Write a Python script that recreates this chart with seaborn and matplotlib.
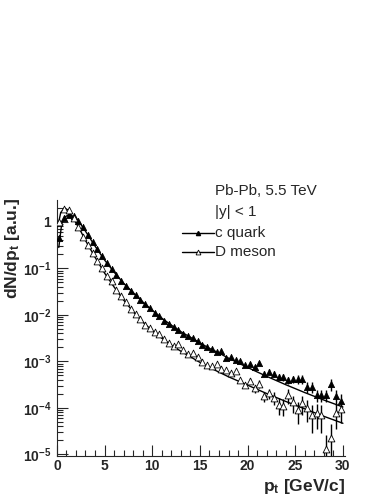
import numpy as np
import pandas as pd
import matplotlib
matplotlib.use("Agg")
import matplotlib.pyplot as plt
import matplotlib.ticker as mticker
import seaborn as sns

# bin centres of the simulated points
pt_bins = [0.25 + 0.5 * i for i in range(60)]

# log10 of dN/dpt for the points
c_quark_log = [-0.35, 0.08, 0.15, 0.12, 0.02, -0.12, -0.28, -0.44, -0.58, -0.74,
               -0.88, -1.02, -1.14, -1.27, -1.38, -1.48, -1.57, -1.67, -1.77, -1.86,
               -1.95, -2.03, -2.14, -2.19, -2.26, -2.33, -2.40, -2.46, -2.50, -2.57,
               -2.64, -2.68, -2.73, -2.80, -2.78, -2.93, -2.90, -2.96, -3.00, -3.08,
               -3.05, -3.12, -3.03, -3.26, -3.22, -3.26, -3.33, -3.34, -3.40, -3.38,
               -3.38, -3.38, -3.55, -3.55, -3.72, -3.72, -3.72, -3.49, -3.75, -3.85]
d_meson_log = [0.00, 0.28, 0.25, 0.08, -0.12, -0.32, -0.50, -0.67, -0.84, -1.00,
               -1.16, -1.28, -1.46, -1.60, -1.72, -1.88, -1.98, -2.08, -2.22, -2.28,
               -2.36, -2.42, -2.52, -2.60, -2.66, -2.62, -2.76, -2.84, -2.82, -2.90,
               -3.02, -3.08, -3.10, -3.05, -3.16, -3.18, -3.25, -3.20, -3.40, -3.50,
               -3.42, -3.58, -3.48, -3.75, -3.68, -3.78, -3.93, -3.95, -3.72, -3.88,
               -4.05, -3.90, -4.00, -4.15, -4.10, -4.15, -4.88, -4.65, -4.10, -4.02]

# relative statistical errors (visible only at high pt)
c_quark_err = [0.0] * 40 + [0.10, 0.10, 0.12, 0.12, 0.12, 0.15, 0.15, 0.15, 0.18, 0.18,
                            0.20, 0.22, 0.25, 0.25, 0.30, 0.30, 0.30, 0.28, 0.35, 0.40]
d_meson_err = [0.0] * 40 + [0.15, 0.20, 0.20, 0.25, 0.25, 0.30, 0.40, 0.40, 0.35, 0.40,
                            0.50, 0.45, 0.50, 0.60, 0.55, 0.60, 1.00, 1.00, 0.55, 0.50]

# fit curves (log10)
c_fit_pt = [0.2, 0.5, 0.8, 1.2, 1.6, 2, 2.5, 3, 3.5, 4, 5, 6, 7, 8, 9, 10, 11, 12, 13, 14,
            15, 16, 17, 18, 19, 20, 22, 24, 26, 28, 30]
c_fit_log = [-0.55, -0.05, 0.10, 0.15, 0.13, 0.08, -0.05, -0.20, -0.36, -0.52, -0.82,
             -1.08, -1.32, -1.52, -1.72, -1.90, -2.07, -2.22, -2.36, -2.48, -2.60, -2.72,
             -2.82, -2.93, -3.03, -3.13, -3.32, -3.50, -3.67, -3.83, -3.98]
d_fit_pt = [0.1, 0.4, 0.8, 1.2, 1.6, 2, 2.5, 3, 3.5, 4, 5, 6, 7, 8, 9, 10, 11, 12, 13, 14,
            15, 16, 17, 18, 19, 20, 22, 24, 26, 28, 30]
d_fit_log = [-0.10, 0.20, 0.30, 0.25, 0.12, -0.02, -0.20, -0.40, -0.58, -0.76, -1.10,
             -1.40, -1.68, -1.93, -2.15, -2.34, -2.50, -2.65, -2.78, -2.90, -3.02, -3.13,
             -3.23, -3.33, -3.42, -3.51, -3.69, -3.86, -4.02, -4.18, -4.33]

ytick_vals = [1e-5, 1e-4, 1e-3, 1e-2, 1e-1, 1]
ytick_labels = [r"$\mathbf{10^{-5}}$", r"$\mathbf{10^{-4}}$", r"$\mathbf{10^{-3}}$",
                r"$\mathbf{10^{-2}}$", r"$\mathbf{10^{-1}}$", "1"]


def main():
    sns.set_style("ticks")
    plt.rcParams["font.family"] = ["Liberation Sans", "DejaVu Sans"]
    plt.rcParams["mathtext.fontset"] = "custom"
    plt.rcParams["mathtext.rm"] = "Liberation Sans:bold"
    plt.rcParams["mathtext.bf"] = "Liberation Sans:bold"
    plt.rcParams["mathtext.it"] = "Liberation Sans:bold"

    fig = plt.figure(figsize=(3.87, 5.01), dpi=100)
    ax = fig.add_axes([0.147, 0.09, 0.744, 0.511])

    pts = pd.DataFrame({
        "pt": pt_bins * 2,
        "y": [10 ** v for v in c_quark_log] + [10 ** v for v in d_meson_log],
        "err": c_quark_err + d_meson_err,
        "sample": ["c quark"] * 60 + ["D meson"] * 60,
    })
    pts["yerr"] = pts["y"] * pts["err"]

    fits = pd.DataFrame({
        "pt": c_fit_pt + d_fit_pt,
        "y": [10 ** v for v in c_fit_log] + [10 ** v for v in d_fit_log],
        "sample": ["c quark"] * len(c_fit_pt) + ["D meson"] * len(d_fit_pt),
    })

    for name in ["c quark", "D meson"]:
        sub = pts[pts["sample"] == name]
        has_err = sub[sub["err"] > 0]
        ax.errorbar(has_err["pt"], has_err["y"], yerr=has_err["yerr"], fmt="none",
                    ecolor="black", elinewidth=1.0, capsize=0, zorder=2)

    sns.lineplot(data=fits, x="pt", y="y", units="sample",
                 estimator=None, color="black", lw=1.0, ax=ax, zorder=3)
    sns.scatterplot(data=pts[pts["sample"] == "c quark"], x="pt", y="y", marker="^",
                    s=20, color="black", edgecolor="black", linewidth=0.6, ax=ax, zorder=4)
    sns.scatterplot(data=pts[pts["sample"] == "D meson"], x="pt", y="y", marker="^",
                    s=24, facecolor="white", edgecolor="black", linewidth=0.6, ax=ax, zorder=4)

    ax.set_yscale("log")
    ax.set_xlim(0, 30.2)
    ax.set_ylim(9.3e-6, 2.97)
    ax.set_yticks(ytick_vals)
    ax.set_yticklabels(ytick_labels)
    ax.yaxis.set_minor_locator(mticker.LogLocator(base=10, subs=np.arange(2, 10)))
    ax.yaxis.set_minor_formatter(mticker.NullFormatter())
    ax.set_xticks([0, 5, 10, 15, 20, 25, 30])
    ax.xaxis.set_minor_locator(mticker.MultipleLocator(1))

    for lab in ax.get_xticklabels() + ax.get_yticklabels():
        lab.set_fontweight("bold")
        lab.set_fontsize(10)
    ax.tick_params(axis="x", which="major", direction="in", length=8, width=0.8, pad=2)
    ax.tick_params(axis="y", which="major", direction="in", length=8, width=0.8, pad=4)
    ax.tick_params(which="minor", direction="in", length=4, width=0.8)

    sns.despine(ax=ax)
    ax.spines["left"].set_linewidth(0.8)
    ax.spines["bottom"].set_linewidth(0.8)

    ax.set_xlabel(r"p$_{t}$ [GeV/c]", fontsize=12.5, fontweight="bold",
                  loc="right", labelpad=3)
    ax.set_ylabel(r"dN/dp$_{t}$ [a.u.]", fontsize=12.5, fontweight="bold",
                  loc="top")
    ax.yaxis.set_label_coords(-0.12, 1.01)

    # legend drawn as text + small line samples
    legend_lines = ["Pb-Pb, 5.5 TeV", "|y| < 1", "c quark", "D meson"]
    legend_y = [1.035, 0.953, 0.871, 0.797]
    for txt, yy in zip(legend_lines, legend_y):
        ax.text(0.55, yy, txt, transform=ax.transAxes, fontsize=11,
                va="center", ha="left")
    ax.plot([0.435, 0.545], [legend_y[2], legend_y[2]], transform=ax.transAxes,
            color="black", lw=1.0, clip_on=False)
    ax.plot([0.49], [legend_y[2]], transform=ax.transAxes, marker="^", ms=3,
            color="black", clip_on=False)
    ax.plot([0.435, 0.545], [legend_y[3], legend_y[3]], transform=ax.transAxes,
            color="black", lw=1.0, clip_on=False)
    ax.plot([0.49], [legend_y[3]], transform=ax.transAxes, marker="^", ms=3.5,
            mfc="white", mec="black", mew=0.6, clip_on=False)

    if ax.get_legend() is not None:
        ax.get_legend().remove()

    fig.savefig("out.png", dpi=100)


if __name__ == "__main__":
    main()
